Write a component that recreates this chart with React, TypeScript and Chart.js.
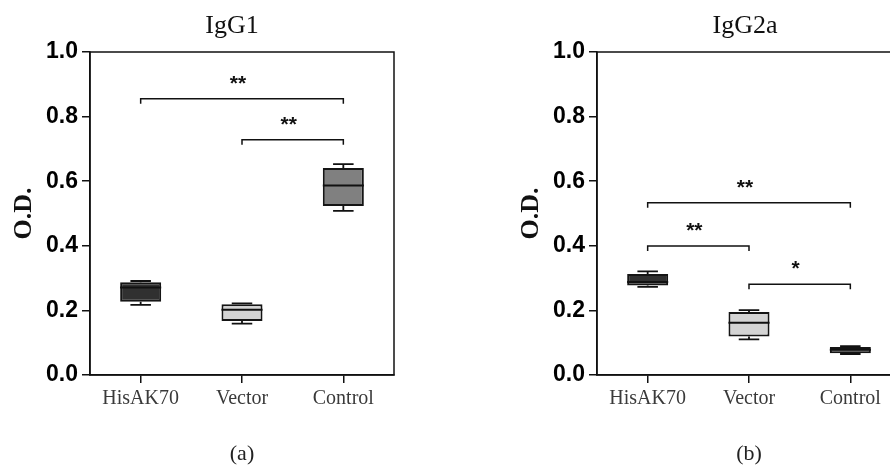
import React, { useEffect, useRef } from "react";
import { Chart, registerables } from "chart.js";

Chart.register(...registerables);

const categories = ["HisAK70", "Vector", "Control"];
const yTicks = [0, 0.2, 0.4, 0.6, 0.8, 1.0];

// IgG1 box statistics
const igg1Min = [0.217, 0.159, 0.508];
const igg1Q1 = [0.227, 0.167, 0.523];
const igg1Median = [0.271, 0.202, 0.587];
const igg1Q3 = [0.287, 0.219, 0.641];
const igg1Max = [0.291, 0.222, 0.653];

// IgG2a box statistics
const igg2aMin = [0.273, 0.110, 0.065];
const igg2aQ1 = [0.277, 0.119, 0.067];
const igg2aMedian = [0.288, 0.162, 0.078];
const igg2aQ3 = [0.313, 0.195, 0.087];
const igg2aMax = [0.321, 0.201, 0.089];

// significance brackets: from index, to index, bracket level, label
const igg1BracketFrom = [0, 1];
const igg1BracketTo = [2, 2];
const igg1BracketLevel = [0.855, 0.728];
const igg1BracketLabel = ["**", "**"];

const igg2aBracketFrom = [0, 0, 1];
const igg2aBracketTo = [2, 1, 2];
const igg2aBracketLevel = [0.533, 0.399, 0.281];
const igg2aBracketLabel = ["**", "**", "*"];

const boxColors = ["#303030", "#d4d4d4", "#808080"];

type Panel = {
  title: string;
  caption: string;
  min: number[];
  q1: number[];
  median: number[];
  q3: number[];
  max: number[];
  bFrom: number[];
  bTo: number[];
  bLevel: number[];
  bLabel: string[];
  axisWidth: number;
  padRight: number;
  canvasWidth: number;
  titleShift: number;
};

const panels: Panel[] = [
  {
    title: "IgG1",
    caption: "(a)",
    min: igg1Min,
    q1: igg1Q1,
    median: igg1Median,
    q3: igg1Q3,
    max: igg1Max,
    bFrom: igg1BracketFrom,
    bTo: igg1BracketTo,
    bLevel: igg1BracketLevel,
    bLabel: igg1BracketLabel,
    axisWidth: 90,
    padRight: 51,
    canvasWidth: 445,
    titleShift: -10,
  },
  {
    title: "IgG2a",
    caption: "(b)",
    min: igg2aMin,
    q1: igg2aQ1,
    median: igg2aMedian,
    q3: igg2aQ3,
    max: igg2aMax,
    bFrom: igg2aBracketFrom,
    bTo: igg2aBracketTo,
    bLevel: igg2aBracketLevel,
    bLabel: igg2aBracketLabel,
    axisWidth: 152,
    padRight: 44,
    canvasWidth: 500,
    titleShift: -4,
  },
];

function makeChart(canvas: HTMLCanvasElement, p: Panel) {
  const boxPlugin = {
    id: "boxExtras",
    afterDatasetsDraw(chart: any) {
      const ctx = chart.ctx;
      const y = chart.scales.y;
      const meta = chart.getDatasetMeta(0);
      ctx.save();
      ctx.strokeStyle = "#111";
      meta.data.forEach((bar: any, i: number) => {
        const x = bar.x;
        const w = bar.width;
        // whiskers
        ctx.lineWidth = 1.8;
        ctx.beginPath();
        ctx.moveTo(x, y.getPixelForValue(p.q3[i]));
        ctx.lineTo(x, y.getPixelForValue(p.max[i]));
        ctx.moveTo(x, y.getPixelForValue(p.q1[i]));
        ctx.lineTo(x, y.getPixelForValue(p.min[i]));
        ctx.moveTo(x - w / 4, y.getPixelForValue(p.max[i]));
        ctx.lineTo(x + w / 4, y.getPixelForValue(p.max[i]));
        ctx.moveTo(x - w / 4, y.getPixelForValue(p.min[i]));
        ctx.lineTo(x + w / 4, y.getPixelForValue(p.min[i]));
        ctx.stroke();
        // median
        ctx.lineWidth = 2;
        ctx.beginPath();
        ctx.moveTo(x - w / 2, y.getPixelForValue(p.median[i]));
        ctx.lineTo(x + w / 2, y.getPixelForValue(p.median[i]));
        ctx.stroke();
      });
      ctx.restore();
    },
    afterDraw(chart: any) {
      const ctx = chart.ctx;
      const area = chart.chartArea;
      const xs = chart.scales.x;
      const ys = chart.scales.y;
      ctx.save();
      // frame
      ctx.strokeStyle = "#111";
      ctx.lineWidth = 1.5;
      ctx.strokeRect(area.left, area.top, area.right - area.left, area.bottom - area.top);
      // brackets
      ctx.lineWidth = 1.5;
      p.bLevel.forEach((lvl, k) => {
        const x1 = xs.getPixelForValue(p.bFrom[k]);
        const x2 = xs.getPixelForValue(p.bTo[k]);
        const yy = ys.getPixelForValue(lvl);
        ctx.beginPath();
        ctx.moveTo(x1, yy + 5);
        ctx.lineTo(x1, yy);
        ctx.lineTo(x2, yy);
        ctx.lineTo(x2, yy + 5);
        ctx.stroke();
        ctx.fillStyle = "#111";
        ctx.font = 'bold 21px "Liberation Sans"';
        ctx.textAlign = "center";
        ctx.textBaseline = "alphabetic";
        ctx.fillText(p.bLabel[k], (x1 + x2) / 2 - 4, yy - 9);
      });
      const cx = (area.left + area.right) / 2;
      // title
      ctx.fillStyle = "#111";
      ctx.font = '26px "Liberation Serif"';
      ctx.textAlign = "center";
      ctx.textBaseline = "alphabetic";
      ctx.fillText(p.title, cx + p.titleShift, 33);
      // caption
      ctx.font = '22px "Liberation Serif"';
      ctx.fillStyle = "#222";
      ctx.fillText(p.caption, cx, 460);
      // y label
      ctx.save();
      ctx.translate(area.left - 59, (area.top + area.bottom) / 2);
      ctx.rotate(-Math.PI / 2);
      ctx.font = 'bold 26px "Liberation Serif"';
      ctx.fillStyle = "#111";
      ctx.fillText("O.D.", 0, 0);
      ctx.restore();
      ctx.restore();
    },
  };

  return new Chart(canvas, {
    type: "bar",
    data: {
      labels: categories,
      datasets: [
        {
          data: categories.map((_, i) => [p.q1[i], p.q3[i]]) as any,
          backgroundColor: boxColors,
          borderColor: "#151515",
          borderWidth: 2,
          borderSkipped: false,
          barPercentage: 0.405,
          categoryPercentage: 1,
        },
      ],
    },
    options: {
      responsive: false,
      animation: false,
      layout: { padding: { top: 52, right: p.padRight, left: 0, bottom: 0 } },
      plugins: { legend: { display: false }, tooltip: { enabled: false }, title: { display: false } },
      scales: {
        x: {
          offset: true,
          grid: {
            display: true,
            drawOnChartArea: false,
            offset: false,
            tickLength: 8,
            color: "#111",
            lineWidth: 1.5,
          },
          border: { display: true, color: "#111", width: 1.5 },
          ticks: {
            font: { family: '"Liberation Serif"', size: 20 },
            color: "#3a3a3a",
            padding: 4,
          },
          afterFit: (s: any) => {
            s.height = 91;
          },
        },
        y: {
          min: 0,
          max: 1,
          afterBuildTicks: (s: any) => {
            s.ticks = yTicks.map((v) => ({ value: v }));
          },
          ticks: {
            callback: (v: any) => Number(v).toFixed(1),
            font: { family: '"Liberation Sans"', weight: "bold", size: 23 },
            color: "#000",
            padding: 4,
          },
          grid: {
            drawOnChartArea: false,
            tickLength: 8,
            color: "#111",
            lineWidth: 1.5,
          },
          border: { color: "#111", width: 1.5 },
          afterFit: (s: any) => {
            s.width = p.axisWidth;
          },
        },
      },
    },
    plugins: [boxPlugin],
  } as any);
}

function PanelChart({ panel, left }: { panel: Panel; left: number }) {
  const ref = useRef<HTMLCanvasElement | null>(null);
  useEffect(() => {
    if (!ref.current) return;
    const c = makeChart(ref.current, panel);
    return () => c.destroy();
  }, [panel]);
  return (
    <canvas
      ref={ref}
      width={panel.canvasWidth}
      height={466}
      style={{ position: "absolute", left, top: 0, width: panel.canvasWidth, height: 466 }}
    />
  );
}

export default function App() {
  return (
    <div
      style={{
        position: "absolute",
        left: 0,
        top: 0,
        width: 890,
        height: 466,
        overflow: "hidden",
        background: "#fff",
      }}
    >
      <PanelChart panel={panels[0]} left={0} />
      <PanelChart panel={panels[1]} left={445} />
    </div>
  );
}
